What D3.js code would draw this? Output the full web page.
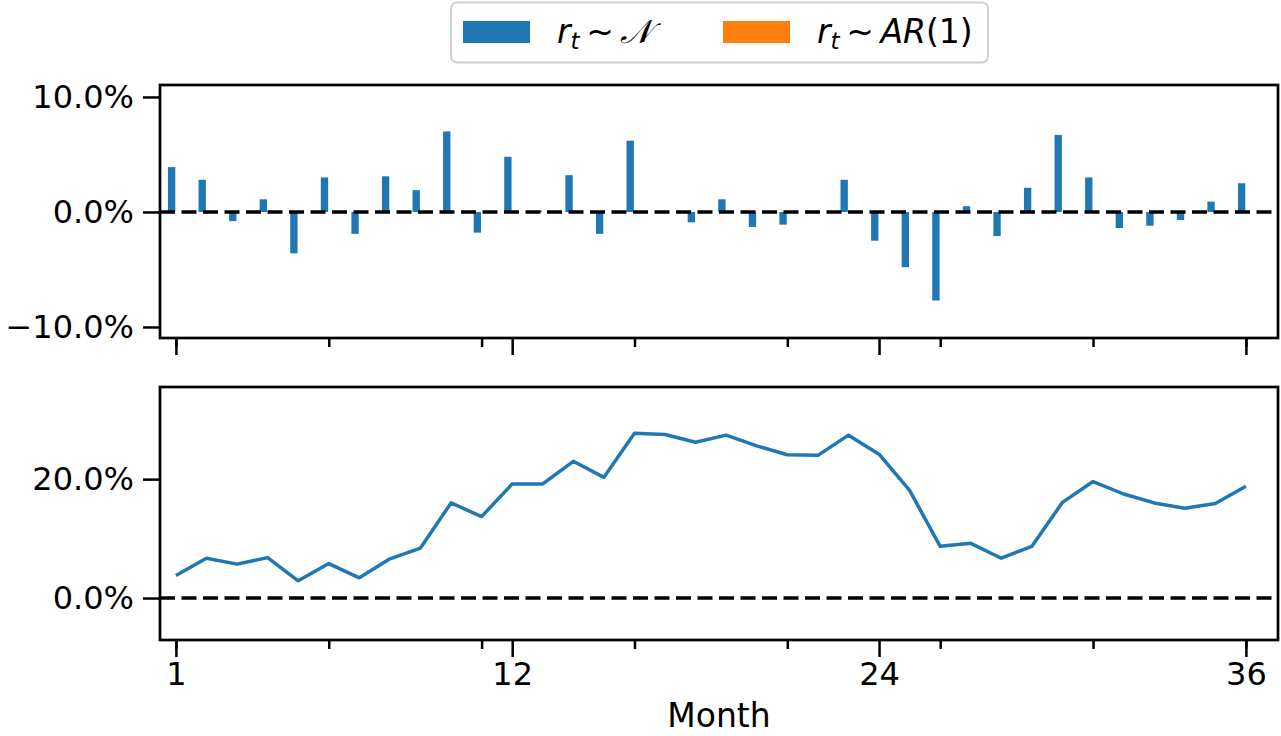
<!DOCTYPE html>
<meta charset="utf-8">
<script src="https://d3js.org/d3.v7.min.js"></script>
<style>
  body { margin: 0; background: #fff; }
  text { font-family: "DejaVu Sans", sans-serif; }
</style>
<div id="chart"></div>
<script>

    // data
    var months = d3.range(1, 37);
    var returnsNormal = [3.9, 2.8, -0.8, 1.1, -3.6, 3.0, -1.9, 3.1, 1.9, 7.0, -1.8, 4.8,
                         0.1, 3.2, -1.9, 6.2, 0.0, -0.9, 1.1, -1.3, -1.1, 0.0, 2.8, -2.5,
                         -4.8, -7.7, 0.5, -2.1, 2.1, 6.7, 3.0, -1.4, -1.2, -0.7, 0.9, 2.5];
    var cumulative = [3.8, 6.7, 5.7, 6.8, 2.9, 5.8, 3.4, 6.6, 8.4, 16.0, 13.7, 19.2,
                      19.2, 23.0, 20.3, 27.7, 27.5, 26.2, 27.4, 25.6, 24.1, 24.0, 27.4, 24.2,
                      18.1, 8.7, 9.2, 6.7, 8.7, 16.1, 19.6, 17.5, 16.0, 15.1, 15.9, 18.8];
    var majorTicks = [1, 12, 24, 36];
    var minorTicks = [1, 6, 11, 16, 21, 26, 31, 36];
    var topTicks = [-0.1, 0, 0.1];
    var bottomTicks = [0, 0.2];
    var legendLabels = ["N", "AR"];
    var colors = ["#1f77b4", "#ff7f0e"];

    var W = 1281, H = 736;
    var left = 160, right = 1278;
    var top1 = 85, bot1 = 338, top2 = 387, bot2 = 640;

    var svg = d3.select("#chart").append("svg")
        .attr("width", W).attr("height", H);

    var x = d3.scaleLinear().domain([0.48, 37.05]).range([left, right]);
    var y1 = d3.scaleLinear().domain([-0.1096, 0.1104]).range([bot1, top1]);
    var y2 = d3.scaleLinear().domain([-0.0706, 0.355]).range([bot2, top2]);

    var pct = d3.format(".1%");

    function styleAxis(g) {
        g.select(".domain").remove();
        g.selectAll(".tick line").attr("stroke", "#000").attr("stroke-width", 2.5);
        g.selectAll(".tick text").attr("fill", "#000").style("font-size", "32px");
    }

    function xAxes(yb, labels) {
        svg.append("g")
            .attr("transform", "translate(0," + yb + ")")
            .call(d3.axisBottom(x).tickValues(minorTicks).tickSize(9).tickFormat(""))
            .call(styleAxis);
        svg.append("g")
            .attr("transform", "translate(0," + yb + ")")
            .call(d3.axisBottom(x).tickValues(majorTicks).tickSize(17).tickPadding(5)
                .tickFormat(labels ? d3.format("d") : ""))
            .call(styleAxis);
    }

    function frame(t, b) {
        svg.append("rect")
            .attr("x", left).attr("y", t)
            .attr("width", right - left).attr("height", b - t)
            .attr("fill", "none").attr("stroke", "#000").attr("stroke-width", 2.7);
    }

    function zeroLine(y) {
        svg.append("line")
            .attr("x1", left).attr("x2", right)
            .attr("y1", y(0)).attr("y2", y(0))
            .attr("stroke", "#000").attr("stroke-width", 3.5)
            .attr("stroke-dasharray", "15,6.5");
    }

    // top panel: monthly returns
    svg.selectAll(".bar")
        .data(months)
        .enter().append("rect")
        .attr("class", "bar")
        .attr("x", function(m) { return x(m - 0.26); })
        .attr("width", function(m) { return x(m - 0.02) - x(m - 0.26); })
        .attr("y", function(m, i) { return y1(Math.max(0, returnsNormal[i] / 100)); })
        .attr("height", function(m, i) { return Math.abs(y1(returnsNormal[i] / 100) - y1(0)); })
        .attr("fill", colors[0]);
    zeroLine(y1);
    svg.append("g")
        .attr("transform", "translate(" + left + ",0)")
        .call(d3.axisLeft(y1).tickValues(topTicks).tickSize(17).tickPadding(9).tickFormat(pct))
        .call(styleAxis);
    xAxes(bot1, false);
    frame(top1, bot1);

    // bottom panel: cumulative return
    var line = d3.line()
        .x(function(m) { return x(m); })
        .y(function(m, i) { return y2(cumulative[i] / 100); });
    svg.append("path")
        .datum(months)
        .attr("d", line)
        .attr("fill", "none")
        .attr("stroke", colors[0])
        .attr("stroke-width", 3.5)
        .attr("stroke-linejoin", "round");
    zeroLine(y2);
    svg.append("g")
        .attr("transform", "translate(" + left + ",0)")
        .call(d3.axisLeft(y2).tickValues(bottomTicks).tickSize(17).tickPadding(9).tickFormat(pct))
        .call(styleAxis);
    xAxes(bot2, true);
    frame(top2, bot2);

    svg.append("text")
        .attr("x", (left + right) / 2).attr("y", 727)
        .attr("text-anchor", "middle")
        .style("font-size", "33px")
        .text("Month");

    // legend
    var lg = svg.append("g");
    lg.append("rect")
        .attr("x", 451).attr("y", 2.5).attr("width", 537).attr("height", 60)
        .attr("rx", 6).attr("fill", "#fff")
        .attr("stroke", "#d0d0d0").attr("stroke-width", 2);
    var items = [{x: 463, tx: 557}, {x: 723, tx: 817}];
    items.forEach(function(it, i) {
        lg.append("rect")
            .attr("x", it.x).attr("y", 21).attr("width", 67).attr("height", 22)
            .attr("fill", colors[i]);
        var t = lg.append("text")
            .attr("x", it.tx).attr("y", 43)
            .style("font-size", "33px");
        t.append("tspan").style("font-style", "italic").text("r");
        t.append("tspan").style("font-style", "italic").style("font-size", "23px")
            .attr("dy", 6).text("t");
        t.append("tspan").attr("dy", -6).text("\u2009~\u2009");
        if (legendLabels[i] === "N") {
            t.append("tspan").style("font-style", "italic").text("\uD835\uDCA9");
        } else {
            t.append("tspan").style("font-style", "italic").text("AR");
            t.append("tspan").text("(1)");
        }
    });

</script>
